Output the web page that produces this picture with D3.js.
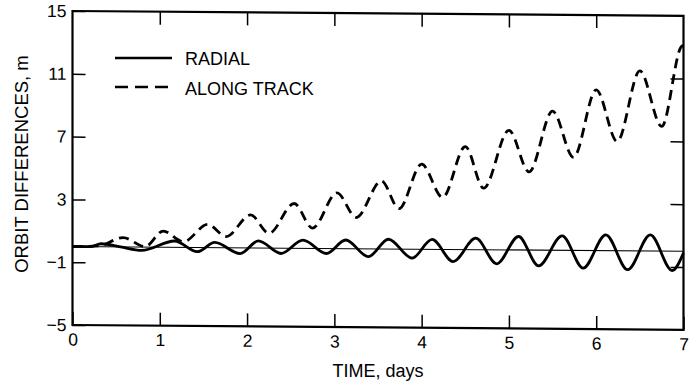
<!doctype html>
<html lang="en">
<head>
  <meta charset="utf-8">
  <title>Orbit differences - D3</title>
  <style>
    body { margin: 0; background: #fff; }
    text { font-family: "Liberation Sans", Arial, sans-serif; fill: #000; }
  </style>
</head>
<body>
  <svg width="697" height="388"></svg>

  <script src="https://cdn.jsdelivr.net/npm/d3@7/dist/d3.min.js"></script>
  <script>
    // tick labels
    var xTicks = [0, 1, 2, 3, 4, 5, 6, 7];
    var yTicks = [-5, -1, 3, 7, 11, 15];

    // radial difference, m (peaks and troughs)
    var radialDays = [0, 0.2, 0.33, 0.55, 0.79, 1.17, 1.43, 1.63, 1.92, 2.13, 2.39, 2.64, 2.91, 3.13, 3.39, 3.62,
      3.89, 4.12, 4.36, 4.62, 4.86, 5.11, 5.34, 5.61, 5.85, 6.11, 6.36, 6.62, 6.87, 7.0];
    var radialValues = [0, 0, 0.19, 0.0, -0.21, 0.4, -0.27, 0.33, -0.37, 0.45, -0.34, 0.52, -0.32, 0.55, -0.5, 0.62,
      -0.57, 0.64, -0.77, 0.73, -0.89, 0.86, -1.0, 0.92, -1.12, 1.01, -1.2, 1.03, -1.23, -0.1];

    // along track difference, m
    var alongDays = [0, 0.3, 0.58, 0.83, 1.04, 1.27, 1.55, 1.76, 2.04, 2.25, 2.54, 2.75, 3.03, 3.25, 3.54, 3.74,
      4.0, 4.24, 4.5, 4.71, 5.0, 5.23, 5.5, 5.74, 6.0, 6.24, 6.5, 6.75, 6.98, 7.0];
    var alongValues = [0, 0.05, 0.59, 0.03, 1.03, 0.36, 1.48, 0.71, 2.1, 0.94, 2.85, 1.29, 3.55, 1.99, 4.33, 2.57,
      5.42, 3.31, 6.56, 3.92, 7.62, 4.98, 8.86, 5.93, 10.24, 6.96, 11.47, 7.94, 13.06, 13.1];

    var svg = d3.select('svg');
    var width = 611, height = 314;

    // the scanned figure is slightly sheared, so the plot box is too
    var g = svg.append('g').attr('transform', 'translate(72.5, 11) skewY(0.45)');

    var x = d3.scaleLinear().domain([0, 7]).range([0, width]);
    var y = d3.scaleLinear().domain([-5, 15]).range([height, 0]);

    var styleAxis = function (sel) {
      sel.select('.domain').remove();
      sel.selectAll('line').attr('stroke', '#000').attr('stroke-width', 1.5);
      sel.selectAll('text').attr('font-size', '17.5px').attr('fill', '#000')
        .attr('font-family', '"Liberation Sans", Arial, sans-serif');
    };

    g.append('g').attr('transform', 'translate(0,' + height + ')')
      .call(d3.axisBottom(x).tickValues(xTicks).tickSize(-13).tickPadding(8).tickFormat(d3.format('d')))
      .call(styleAxis);
    g.append('g')
      .call(d3.axisLeft(y).tickValues(yTicks).tickSize(-13).tickPadding(6)
        .tickFormat(function (d) { return d < 0 ? '\u2212' + Math.abs(d) : d; }))
      .call(styleAxis);
    g.append('g')
      .call(d3.axisTop(x).tickValues(xTicks.slice(1, -1)).tickSize(-13).tickFormat(''))
      .call(styleAxis);
    g.append('g').attr('transform', 'translate(' + width + ',0)')
      .call(d3.axisRight(y).tickValues(yTicks.slice(1, -1)).tickSize(-13).tickFormat(''))
      .call(styleAxis);

    // frame
    g.append('rect')
      .attr('width', width).attr('height', height)
      .attr('fill', 'none').attr('stroke', '#000').attr('stroke-width', 2.2);

    // zero reference line
    g.append('line')
      .attr('x1', x(0)).attr('x2', x(7)).attr('y1', y(0)).attr('y2', y(0))
      .attr('stroke', '#000').attr('stroke-width', 1.1);

    var line = d3.line()
      .x(function (d) { return x(d[0]); })
      .y(function (d) { return y(d[1]); })
      .curve(d3.curveMonotoneX);

    g.append('path')
      .datum(d3.zip(alongDays, alongValues))
      .attr('d', line)
      .attr('fill', 'none').attr('stroke', '#000').attr('stroke-width', 2.8)
      .attr('stroke-dasharray', '10,6');

    g.append('path')
      .datum(d3.zip(radialDays, radialValues))
      .attr('d', line)
      .attr('fill', 'none').attr('stroke', '#000').attr('stroke-width', 2.8);

    // legend
    var legend = svg.append('g').attr('transform', 'translate(115, 58)');
    legend.append('line').attr('x1', 0).attr('x2', 57).attr('y1', 0).attr('y2', 0)
      .attr('stroke', '#000').attr('stroke-width', 2.6);
    legend.append('line').attr('x1', 0).attr('x2', 57).attr('y1', 29).attr('y2', 29)
      .attr('stroke', '#000').attr('stroke-width', 2.6).attr('stroke-dasharray', '13,7');
    legend.append('text').text('RADIAL').attr('x', 70).attr('y', 7).attr('font-size', '18px');
    legend.append('text').text('ALONG TRACK').attr('x', 70).attr('y', 37).attr('font-size', '18px');

    // axis titles
    svg.append('text').text('TIME, days')
      .attr('x', 378).attr('y', 377).attr('text-anchor', 'middle').attr('font-size', '18px');
    svg.append('text').text('ORBIT DIFFERENCES, m')
      .attr('transform', 'translate(28, 164) rotate(-90)')
      .attr('text-anchor', 'middle').attr('font-size', '18.5px');
  </script>
</body>
</html>
